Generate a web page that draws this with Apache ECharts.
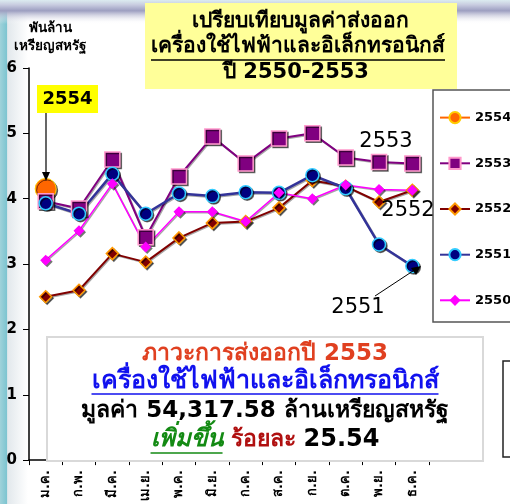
<!DOCTYPE html>
<html><head><meta charset="utf-8">
<script src="https://cdn.jsdelivr.net/npm/echarts@6/dist/echarts.min.js"></script>
<style>html,body{margin:0;padding:0;background:#fff}#c{width:510px;height:504px}</style>
</head><body><div id="c"></div>
<script>
var months = ['ม.ค.','ก.พ.','มี.ค.','เม.ย.','พ.ค.','มิ.ย.','ก.ค.','ส.ค.','ก.ย.','ต.ค.','พ.ย.','ธ.ค.'];
var y2554 = [4.15, null, null, null, null, null, null, null, null, null, null, null];
var y2553 = [3.96, 3.85, 4.60, 3.41, 4.34, 4.95, 4.54, 4.92, 5.00, 4.63, 4.56, 4.54];
var y2552 = [2.50, 2.60, 3.16, 3.03, 3.40, 3.63, 3.65, 3.86, 4.28, 4.19, 3.95, 4.13];
var y2551 = [3.93, 3.77, 4.38, 3.77, 4.08, 4.04, 4.10, 4.09, 4.36, 4.16, 3.30, 2.97];
var y2550 = [3.06, 3.51, 4.23, 3.26, 3.80, 3.80, 3.65, 4.09, 4.00, 4.21, 4.14, 4.13];
var yTicks = [0, 1, 2, 3, 4, 5, 6];
var titleLines = ['เปรียบเทียบมูลค่าส่งออก', 'เครื่องใช้ไฟฟ้าและอิเล็กทรอนิกส์', 'ปี 2550-2553'];
var yName = ['พันล้าน', 'เหรียญสหรัฐ'];

var F = "Tahoma, 'DejaVu Sans', 'Noto Sans', sans-serif";
var ctx = document.createElement('canvas').getContext('2d');
function tw(text, font) { ctx.font = font; return ctx.measureText(text).width; }

var chart = echarts.init(document.getElementById('c'), null, {renderer: 'canvas'});
var shadow = {shadowColor: 'rgba(0,0,0,0.55)', shadowOffsetX: 1.5, shadowOffsetY: 1.5, shadowBlur: 0};

function mk(name, data, lineColor, lw, sym, size, fill, border, bw) {
  return {
    name: name, type: 'line', data: data, symbol: sym, symbolSize: size,
    lineStyle: {color: lineColor, width: lw, shadowColor: 'rgba(0,0,0,0.35)', shadowOffsetX: 1, shadowOffsetY: 1},
    itemStyle: Object.assign({color: fill, borderColor: border, borderWidth: bw}, shadow),
    emphasis: {disabled: true}, animation: false
  };
}
function ctext(text, cx, cy, font, fill, z) {
  return {type: 'text', z: z || 9, x: cx, y: cy, style: {text: text, align: 'center', verticalAlign: 'middle', font: font, fill: fill}};
}
function uline(cx, w, y, color, z) {
  return {type: 'line', z: z || 9, shape: {x1: cx - w / 2, y1: y, x2: cx + w / 2, y2: y}, style: {stroke: color, lineWidth: 1.5}};
}

var tFont = 'bold 21px ' + F;
var iFont = 'bold 23px ' + F;
var bFont2 = 'bold 25px ' + F;
var l2 = 'เครื่องใช้ไฟฟ้าและอิเล็กทรอนิกส์';
var gFont = 'italic bold 24px ' + F, rFont = 'bold 23px ' + F, bFont = 'bold 24px ' + F;
var gT = 'เพิ่มขึ้น', rT = ' ร้อยละ ', bT = '25.54';
var wG = tw(gT, gFont), wR = tw(rT, rFont), wB = tw(bT, bFont);
var icx = 265;
var gStart = icx - (wG + wR + wB) / 2;

var option = {
  animation: false,
  textStyle: {fontFamily: F},
  grid: {left: 29, right: 81, top: 68, bottom: 42},
  legend: {
    orient: 'vertical', left: 434, top: 106, itemWidth: 30, itemHeight: 14, itemGap: 32.5,
    textStyle: {fontFamily: F, fontWeight: 'bold', fontSize: 13, color: '#000'},
    data: ['2554', '2553', '2552', '2551', '2550']
  },
  xAxis: {
    type: 'category', data: months, boundaryGap: true,
    axisLine: {lineStyle: {color: '#000', width: 1.5}},
    axisTick: {show: true, length: 5, lineStyle: {color: '#000'}},
    axisLabel: {rotate: 90, fontFamily: F, fontWeight: 'bold', fontSize: 13, color: '#000', margin: 10, interval: 0}
  },
  yAxis: {
    type: 'value', min: 0, max: 6, interval: 1,
    splitLine: {show: false},
    axisLine: {show: true, lineStyle: {color: '#000', width: 1.5}},
    axisTick: {show: true, length: 6, lineStyle: {color: '#000'}},
    axisLabel: {fontFamily: F, fontWeight: 'bold', fontSize: 15, color: '#000', margin: 12,
      formatter: function (v) { return yTicks.indexOf(v) >= 0 ? String(v) : ''; }}
  },
  series: [
    mk('2554', y2554, '#FF6600', 2, 'circle', 21, '#FF6600', '#FFCC00', 1),
    mk('2553', y2553, '#800080', 2, 'rect', 15, '#800080', '#FF99CC', 1.5),
    mk('2552', y2552, '#800000', 2, 'diamond', 12, '#800000', '#FF9900', 1.5),
    mk('2551', y2551, '#333399', 2.5, 'circle', 13, '#000080', '#33CCFF', 1.5),
    mk('2550', y2550, '#FF00FF', 1.5, 'diamond', 11, '#FF00FF', '#FF00FF', 0)
  ],
  graphic: [
    {type: 'rect', z: -10, silent: true, shape: {x: 0, y: 0, width: 28, height: 504},
      style: {fill: new echarts.graphic.LinearGradient(0, 0, 1, 0, [{offset: 0, color: '#9fd2da'}, {offset: 0.25, color: '#7cc4d0'}, {offset: 0.27, color: '#e2e8ec'}, {offset: 1, color: '#ffffff'}])}},
    {type: 'rect', z: -9, silent: true, shape: {x: 0, y: 0, width: 510, height: 24},
      style: {fill: new echarts.graphic.LinearGradient(0, 0, 0, 1, [{offset: 0, color: '#dcecf0'}, {offset: 0.2, color: '#c8cce0'}, {offset: 0.45, color: '#9c9ec0'}, {offset: 1, color: 'rgba(255,255,255,0)'}])}},
    // title box
    {type: 'rect', z: 5, shape: {x: 145, y: 3, width: 312, height: 86}, style: {fill: '#FFFF99'}},
    ctext(titleLines[0], 300, 22, tFont, '#000', 6),
    ctext(titleLines[1], 298, 47, tFont, '#000', 6),
    uline(298, tw(titleLines[1], tFont), 60, '#000', 6),
    ctext(titleLines[2], 296, 73, tFont, '#000', 6),
    // y axis name
    ctext(yName[0], 50, 28, 'bold 13.5px ' + F, '#000', 6),
    ctext(yName[1], 50, 46, 'bold 13.5px ' + F, '#000', 6),
    // 2554 callout
    {type: 'rect', z: 6, shape: {x: 37, y: 85, width: 61, height: 28}, style: {fill: '#FFFF00'}},
    ctext('2554', 67.5, 99.5, 'bold 18px ' + F, '#000', 7),
    {type: 'line', z: 6, shape: {x1: 46, y1: 113, x2: 46, y2: 176}, style: {stroke: '#000', lineWidth: 1.2}},
    {type: 'polygon', z: 6, shape: {points: [[42, 172], [50, 172], [46, 181]]}, style: {fill: '#000'}},
    // series annotations
    ctext('2553', 386, 142, '21px ' + F, '#000', 6),
    ctext('2552', 408, 211, '21px ' + F, '#000', 6),
    ctext('2551', 358, 308, '21px ' + F, '#000', 6),
    {type: 'line', z: 6, shape: {x1: 375, y1: 296, x2: 416, y2: 269}, style: {stroke: '#000', lineWidth: 1}},
    {type: 'polygon', z: 6, shape: {points: [[421, 266], [411, 268], [416, 275]]}, style: {fill: '#000'}},
    // legend frame
    {type: 'rect', z: 4, shape: {x: 433, y: 90, width: 90, height: 232}, style: {fill: '#fff', stroke: '#555', lineWidth: 1.5}},
    // bottom right box fragment
    {type: 'rect', z: 4, shape: {x: 503, y: 361, width: 20, height: 96}, style: {fill: '#fff', stroke: '#222', lineWidth: 1.5}},
    // info box
    {type: 'rect', z: 8, shape: {x: 47, y: 337, width: 436, height: 124}, style: {fill: '#fff', stroke: '#d9d9d9', lineWidth: 2}},
    ctext('ภาวะการส่งออกปี 2553', icx, 354, iFont, '#E04020'),
    ctext(l2, icx, 381, bFont2, '#1111EE'),
    uline(icx, tw(l2, bFont2), 394, '#1111EE'),
    ctext('มูลค่า 54,317.58 ล้านเหรียญสหรัฐ', icx, 411, iFont, '#000'),
    {type: 'text', z: 9, x: icx, y: 440, style: {
      text: '{g|' + gT + '}{r|' + rT + '}{b|' + bT + '}', align: 'center', verticalAlign: 'middle',
      rich: {
        g: {font: gFont, fill: '#138A13'},
        r: {font: rFont, fill: '#B01010'},
        b: {font: bFont, fill: '#000'}
      }}},
    {type: 'line', z: 9, shape: {x1: gStart, y1: 453, x2: gStart + wG, y2: 453}, style: {stroke: '#138A13', lineWidth: 1.5}}
  ]
};
chart.setOption(option);
</script></body></html>
